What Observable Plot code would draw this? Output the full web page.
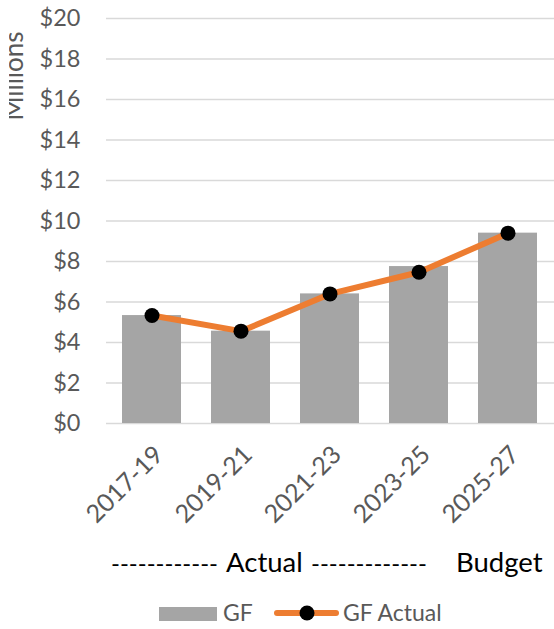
<!DOCTYPE html>
<html>
<head>
<meta charset="utf-8">
<script src="https://cdn.jsdelivr.net/npm/d3@7"></script>
<script src="https://cdn.jsdelivr.net/npm/@observablehq/plot@0.6"></script>
<style>
  html, body { margin: 0; padding: 0; background: #fff; }
  #wrap { width: 554px; height: 629px; overflow: hidden; position: relative; }
  svg { display: block; }
</style>
</head>
<body>
<div id="wrap"></div>
<script>
const periods = ["2017-19", "2019-21", "2021-23", "2023-25", "2025-27"];
const gf = [5.33, 4.56, 6.40, 7.75, 9.40];
const gfActual = [5.33, 4.56, 6.40, 7.47, 9.40];
const yTicks = [0, 2, 4, 6, 8, 10, 12, 14, 16, 18, 20];

const data = periods.map((p, i) => ({period: p, gf: gf[i], actual: gfActual[i]}));

const FONT = "Lato, 'Open Sans', sans-serif";
const GRAY_TEXT = "#595959";
const ORANGE = "#ED7D31";
const BAR = "#A5A5A5";

const chart = Plot.plot({
  width: 554,
  height: 530,
  marginLeft: 106,
  marginRight: 0,
  marginTop: 18,
  marginBottom: 107,
  style: {fontFamily: FONT, fontSize: "23.5px", color: GRAY_TEXT, background: "white", overflow: "hidden"},
  x: {domain: periods, paddingInner: 1/3, paddingOuter: 1/6, label: null},
  y: {domain: [0, 20], label: null},
  marks: [
    Plot.gridY(yTicks, {stroke: "#D9D9D9", strokeOpacity: 1, strokeWidth: 1.5}),
    Plot.barY(data, {x: "period", y: "gf", fill: BAR}),
    Plot.line(data, {x: "period", y: "actual", stroke: ORANGE, strokeWidth: 6}),
    Plot.dot(data, {x: "period", y: "actual", r: 7.5, fill: "black", stroke: "none"}),
    Plot.axisY(yTicks, {tickSize: 0, tickPadding: 26, tickFormat: d => "$" + d, label: null}),
    Plot.axisX({tickRotate: -45, tickSize: 0, tickPadding: 27, dx: 7, fontSize: 25, label: null})
  ]
});

const svg = d3.select(chart);
const defs = svg.append("defs");
defs.append("clipPath").attr("id", "millions-clip")
  .attr("clipPathUnits", "userSpaceOnUse")
  .append("rect").attr("x", 9).attr("y", 0).attr("width", 40).attr("height", 200);
svg.append("g")
  .attr("clip-path", "url(#millions-clip)")
  .append("text")
  .attr("transform", "translate(23.3,76) rotate(-90)")
  .attr("text-anchor", "middle")
  .attr("font-family", FONT)
  .attr("font-size", 26)
  .attr("fill", GRAY_TEXT)
  .text("Millions");

document.getElementById("wrap").appendChild(chart);

// Bottom annotation + legend
const bottom = d3.create("svg")
  .attr("width", 554)
  .attr("height", 99)
  .attr("font-family", FONT);
const off = 530;
const base = 572 - off;
bottom.append("text")
  .attr("x", 111).attr("y", base)
  .attr("font-size", 24).attr("fill", "black")
  .text("------------");
bottom.append("text")
  .attr("x", 226).attr("y", base)
  .attr("font-size", 27.5).attr("fill", "black")
  .text("Actual");
bottom.append("text")
  .attr("x", 311).attr("y", base)
  .attr("font-size", 24).attr("fill", "black")
  .text("-------------");
bottom.append("text")
  .attr("x", 456).attr("y", base)
  .attr("font-size", 27.5).attr("fill", "black")
  .text("Budget");

// legend
bottom.append("rect")
  .attr("x", 159).attr("y", 607 - off).attr("width", 58).attr("height", 14)
  .attr("fill", BAR);
bottom.append("text")
  .attr("x", 223).attr("y", 620.5 - off)
  .attr("font-size", 23).attr("fill", GRAY_TEXT)
  .text("GF");
bottom.append("line")
  .attr("x1", 277).attr("x2", 336).attr("y1", 613 - off).attr("y2", 613 - off)
  .attr("stroke", ORANGE).attr("stroke-width", 6).attr("stroke-linecap", "round");
bottom.append("circle")
  .attr("cx", 307).attr("cy", 613 - off).attr("r", 7.5).attr("fill", "black");
bottom.append("text")
  .attr("x", 343).attr("y", 620.5 - off)
  .attr("font-size", 23).attr("fill", GRAY_TEXT)
  .text("GF Actual");

document.getElementById("wrap").appendChild(bottom.node());
</script>
</body>
</html>
